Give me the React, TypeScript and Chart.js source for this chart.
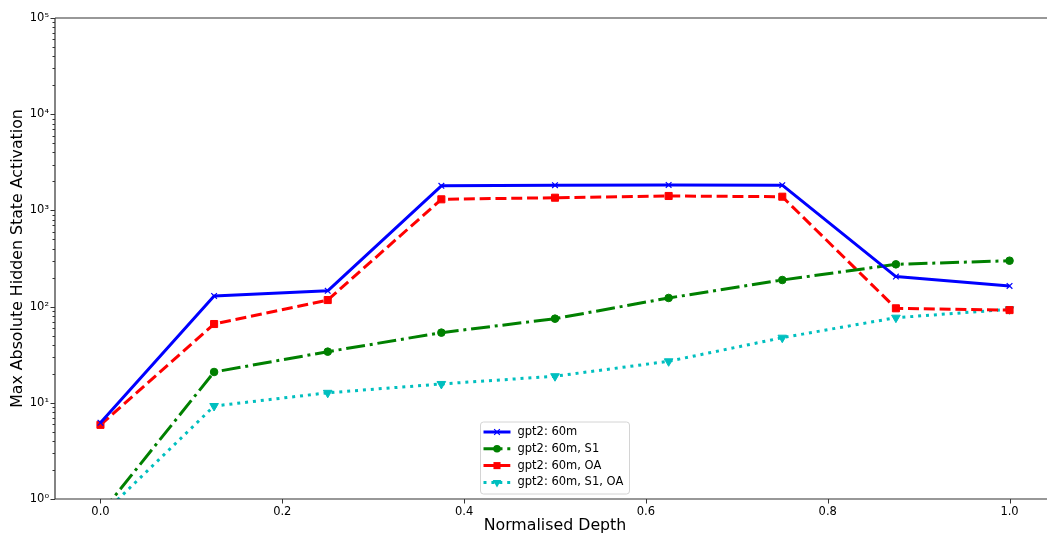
import React, { useEffect, useRef } from 'react';
import { Chart, registerables } from 'chart.js';

Chart.register(...registerables);

// ---- data ----
const depth = [0, 0.125, 0.25, 0.375, 0.5, 0.625, 0.75, 0.875, 1.0];
const base60m = [6.2, 129, 146, 1800, 1830, 1840, 1830, 205, 164];
const s1 = [0.7, 20.9, 34.0, 53.6, 74.9, 123, 189, 275, 300];
const oa = [5.9, 65.9, 117, 1304, 1355, 1412, 1388, 96, 92];
const s1oa = [0.66, 9.26, 12.7, 15.7, 18.9, 27.0, 47.5, 76.7, 93.7];
const seriesLabels = ['gpt2: 60m', 'gpt2: 60m, S1', 'gpt2: 60m, OA', 'gpt2: 60m, S1, OA'];
const xTicks = [0, 0.2, 0.4, 0.6, 0.8, 1.0];
const xTickLabels = ['0.0', '0.2', '0.4', '0.6', '0.8', '1.0'];
const yMajorTicks = [1, 10, 100, 1000, 10000, 100000];
const yTickLabels = ['10⁰', '10¹', '10²', '10³', '10⁴', '10⁵'];
const xTitle = 'Normalised Depth';
const yTitle = 'Max Absolute Hidden State Activation';

const FONT = '"DejaVu Sans", sans-serif';

const yMinorTicks: number[] = [];
for (let i = 0; i < yMajorTicks.length - 1; i++) {
  for (let m = 2; m <= 9; m++) yMinorTicks.push(yMajorTicks[i] * m);
}

function toPts(arr: number[]) {
  return depth.map((x, i) => ({ x, y: arr[i] }));
}

function drawMarker(ctx: CanvasRenderingContext2D, style: string, x: number, y: number, r: number, color: string) {
  ctx.save();
  ctx.setLineDash([]);
  ctx.fillStyle = color;
  ctx.strokeStyle = color;
  ctx.lineWidth = 1.2;
  ctx.beginPath();
  if (style === 'crossRot') {
    const d = r * Math.SQRT1_2;
    ctx.moveTo(x - d, y - d); ctx.lineTo(x + d, y + d);
    ctx.moveTo(x - d, y + d); ctx.lineTo(x + d, y - d);
    ctx.stroke();
  } else if (style === 'circle') {
    ctx.arc(x, y, r, 0, Math.PI * 2);
    ctx.fill();
  } else if (style === 'rect') {
    const s = r * Math.SQRT1_2;
    ctx.rect(x - s, y - s, 2 * s, 2 * s);
    ctx.fill();
  } else if (style === 'triangleDown') {
    const a = Math.PI;
    for (let k = 0; k < 3; k++) {
      const ang = a + k * (2 * Math.PI / 3);
      const px = x + Math.sin(ang) * r;
      const py = y - Math.cos(ang) * r;
      if (k === 0) ctx.moveTo(px, py); else ctx.lineTo(px, py);
    }
    ctx.closePath();
    ctx.fill();
  }
  ctx.restore();
}

const legendStyles = [
  { color: '#0000ff', dash: [] as number[], marker: 'crossRot', r: 4 },
  { color: '#008000', dash: [19, 4.8, 3, 4.8], marker: 'circle', r: 3.8 },
  { color: '#ff0000', dash: [11, 4.8], marker: 'rect', r: 5 },
  { color: '#00bfbf', dash: [3, 4.9], marker: 'triangleDown', r: 5 },
];

const axesPlugin = {
  id: 'mplAxes',
  afterDraw(chart: any) {
    const { ctx, chartArea } = chart;
    const { left, right, top, bottom } = chartArea;
    const xs = chart.scales.x;
    const ys = chart.scales.y;
    ctx.save();
    ctx.strokeStyle = '#333';
    ctx.lineWidth = 1.2;
    ctx.setLineDash([]);
    ctx.beginPath();
    ctx.moveTo(left, top); ctx.lineTo(right, top);
    ctx.moveTo(left, top); ctx.lineTo(left, bottom);
    ctx.moveTo(left, bottom); ctx.lineTo(right, bottom);
    ctx.moveTo(right, top); ctx.lineTo(right, bottom);
    ctx.stroke();
    ctx.lineWidth = 1;
    ctx.beginPath();
    xTicks.forEach((v) => {
      const px = Math.round(xs.getPixelForValue(v)) + 0.5;
      ctx.moveTo(px, bottom); ctx.lineTo(px, bottom + 4.5);
    });
    yMajorTicks.forEach((v) => {
      const py = Math.round(ys.getPixelForValue(v)) + 0.5;
      ctx.moveTo(left, py); ctx.lineTo(left - 4.5, py);
    });
    yMinorTicks.forEach((v) => {
      const py = Math.round(ys.getPixelForValue(v)) + 0.5;
      ctx.moveTo(left, py); ctx.lineTo(left - 2.5, py);
    });
    ctx.stroke();

    // legend
    const w = 149, h = 72;
    const cx = (left + right) / 2;
    const x0 = cx - w / 2;
    const y0 = bottom - 5 - h;
    ctx.beginPath();
    const rr = 3;
    ctx.moveTo(x0 + rr, y0);
    ctx.lineTo(x0 + w - rr, y0);
    ctx.quadraticCurveTo(x0 + w, y0, x0 + w, y0 + rr);
    ctx.lineTo(x0 + w, y0 + h - rr);
    ctx.quadraticCurveTo(x0 + w, y0 + h, x0 + w - rr, y0 + h);
    ctx.lineTo(x0 + rr, y0 + h);
    ctx.quadraticCurveTo(x0, y0 + h, x0, y0 + h - rr);
    ctx.lineTo(x0, y0 + rr);
    ctx.quadraticCurveTo(x0, y0, x0 + rr, y0);
    ctx.closePath();
    ctx.fillStyle = 'rgba(255,255,255,0.8)';
    ctx.fill();
    ctx.strokeStyle = '#d4d4d4';
    ctx.lineWidth = 1;
    ctx.stroke();

    ctx.font = `11.5px ${FONT}`;
    ctx.textBaseline = 'middle';
    ctx.textAlign = 'left';
    seriesLabels.forEach((lab, i) => {
      const st = legendStyles[i];
      const yy = y0 + 10 + i * 16.8;
      ctx.save();
      ctx.strokeStyle = st.color;
      ctx.lineWidth = 3;
      ctx.lineCap = 'butt';
      ctx.setLineDash(st.dash);
      ctx.beginPath();
      ctx.moveTo(x0 + 3, yy);
      ctx.lineTo(x0 + 30, yy);
      ctx.stroke();
      ctx.restore();
      drawMarker(ctx, st.marker, x0 + 16.5, yy, st.r, st.color);
      ctx.fillStyle = '#000';
      ctx.fillText(lab, x0 + 37, yy);
    });
    ctx.restore();
  },
};

export default function App() {
  const ref = useRef<HTMLCanvasElement | null>(null);
  useEffect(() => {
    if (!ref.current) return;
    document.body.style.margin = '0';
    document.body.style.overflow = 'hidden';
    const mk = (label: string, arr: number[], i: number, pointStyle: string, radius: number, rotation = 0) => ({
      label,
      data: toPts(arr),
      borderColor: legendStyles[i].color,
      backgroundColor: legendStyles[i].color,
      borderWidth: 3,
      borderDash: legendStyles[i].dash,
      borderCapStyle: 'butt' as const,
      borderJoinStyle: 'round' as const,
      pointStyle,
      pointRadius: radius,
      pointHoverRadius: radius,
      pointRotation: rotation,
      pointBorderWidth: pointStyle === 'crossRot' ? 1.2 : 1,
      pointBorderColor: legendStyles[i].color,
      pointBackgroundColor: legendStyles[i].color,
      tension: 0,
      fill: false,
    });
    const chart = new Chart(ref.current, {
      type: 'line',
      data: {
        datasets: [
          mk(seriesLabels[0], base60m, 0, 'crossRot', 4),
          mk(seriesLabels[1], s1, 1, 'circle', 3.8),
          mk(seriesLabels[2], oa, 2, 'rect', 5),
          mk(seriesLabels[3], s1oa, 3, 'triangle', 5, 180),
        ] as any,
      },
      options: {
        responsive: false,
        animation: false,
        events: [],
        layout: { padding: { top: 18, right: 4, left: 0, bottom: 0 } },
        plugins: {
          legend: { display: false },
          tooltip: { enabled: false },
        },
        scales: {
          x: {
            type: 'linear',
            min: -0.05,
            max: 1.05,
            grid: { display: false, drawTicks: false },
            border: { display: false },
            afterBuildTicks: (s: any) => { s.ticks = xTicks.map((v) => ({ value: v })); },
            afterFit: (s: any) => { s.height = 34; s.paddingLeft = 0; s.paddingRight = 0; },
            ticks: {
              autoSkip: false,
              maxRotation: 0,
              padding: 6,
              color: '#000',
              font: { family: FONT, size: 11.5 },
              callback: (v: any) => {
                const idx = xTicks.findIndex((t) => Math.abs(t - Number(v)) < 1e-9);
                return idx >= 0 ? xTickLabels[idx] : '';
              },
            },
            title: {
              display: true,
              text: xTitle,
              color: '#000',
              font: { family: FONT, size: 15.8, lineHeight: 1 },
              padding: { top: 0, bottom: -0.5 },
            },
          },
          y: {
            type: 'logarithmic',
            min: 1,
            max: 100000,
            grid: { display: false, drawTicks: false },
            border: { display: false },
            afterBuildTicks: (s: any) => {
              const all = [...yMajorTicks, ...yMinorTicks].sort((a, b) => a - b);
              s.ticks = all.map((v) => ({ value: v, major: yMajorTicks.includes(v) }));
            },
            afterFit: (s: any) => { s.width = 55; s.paddingTop = 0; s.paddingBottom = 0; },
            ticks: {
              autoSkip: false,
              padding: 6,
              color: '#000',
              font: { family: FONT, size: 11.5 },
              callback: (v: any) => {
                const idx = yMajorTicks.indexOf(Number(v));
                return idx >= 0 ? yTickLabels[idx] : '';
              },
            },
            title: {
              display: true,
              text: yTitle,
              color: '#000',
              font: { family: FONT, size: 15.8, lineHeight: 1.2 },
              padding: { top: 8.5, bottom: 0 },
            },
          },
        },
      },
      plugins: [axesPlugin],
    });
    return () => chart.destroy();
  }, []);
  return (
    <div style={{ position: 'fixed', left: 0, top: 0, width: 1047, height: 533, overflow: 'hidden', background: '#fff' }}>
      <canvas ref={ref} width={1061} height={533} style={{ display: 'block' }} />
    </div>
  );
}
